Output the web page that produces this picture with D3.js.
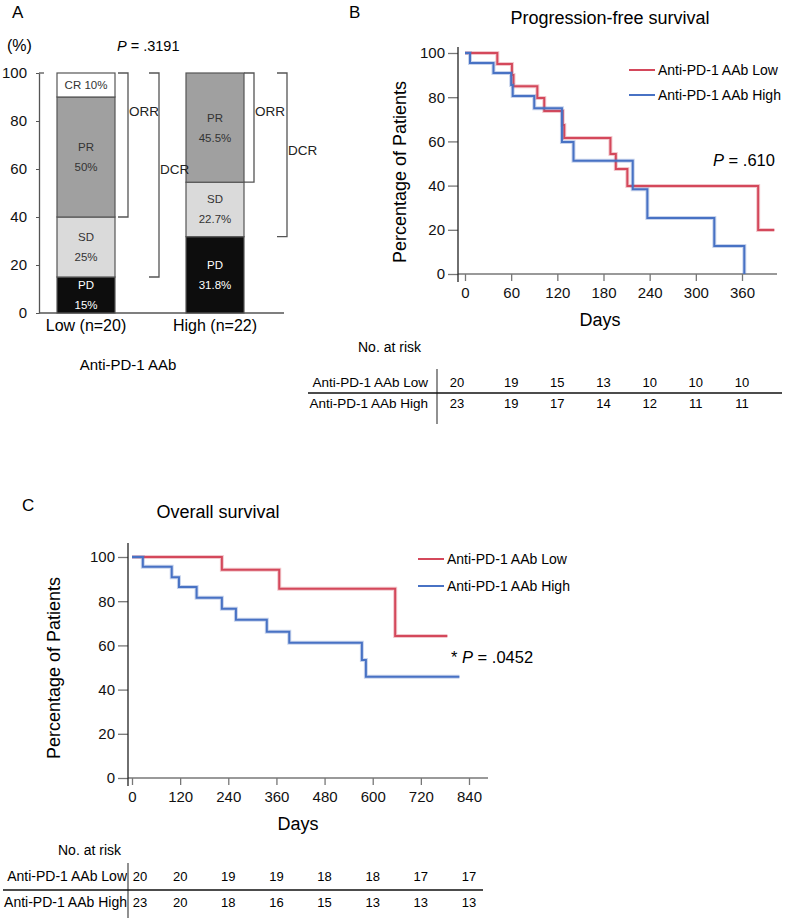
<!DOCTYPE html>
<html>
<head>
<meta charset="utf-8">
<script src="https://cdn.jsdelivr.net/npm/d3@7"></script>
<style>
  body { margin: 0; background: #fff; }
  svg { font-family: "Liberation Sans", Arial, sans-serif; }
  .narrow { font-family: "Liberation Sans Narrow", "Arial Narrow", "Liberation Sans", Arial, sans-serif; }
</style>
</head>
<body>
<div id="chart"></div>
<script>
// ---- data ----
// Panel A: best response by anti-PD-1 AAb group (%)
const groups = ["Low (n=20)", "High (n=22)"];
const responseKeys = ["PD", "SD", "PR", "CR"];
const lowResponse = [15, 25, 50, 10];
const highResponse = [31.8, 22.7, 45.5, 0];
const responseText = [["15%", "25%", "50%", "10%"], ["31.8%", "22.7%", "45.5%", ""]];

// Panel B: progression-free survival (step at day -> survival %)
const pfsLowDays = [0, 42, 61, 63, 94, 103, 127, 129, 189, 196, 211, 381, 402];
const pfsLowSurv = [100, 95, 90, 85, 79.6, 73.8, 67.4, 61.5, 54.3, 47.5, 39.8, 19.9, 19.9];
const pfsHighDays = [0, 6.5, 37, 60, 62, 90, 126, 141, 218, 237, 324, 363];
const pfsHighSurv = [100, 95.5, 91, 85.5, 80.5, 75, 59.7, 51.2, 38.4, 25.3, 12.7, 0];
const pfsTicks = [0, 60, 120, 180, 240, 300, 360];
const pfsRiskLow = [20, 19, 15, 13, 10, 10, 10];
const pfsRiskHigh = [23, 19, 17, 14, 12, 11, 11];

// Panel C: overall survival
const osLowDays = [0, 224, 367, 656, 786];
const osLowSurv = [100, 94.2, 85.6, 64.3, 64.3];
const osHighDays = [0, 27, 99, 117, 161, 224, 259, 336, 392, 573, 583, 816];
const osHighSurv = [100, 95.6, 90.8, 86.4, 81.6, 76.6, 71.6, 66.2, 61.2, 53.4, 45.8, 45.8];
const osTicks = [0, 120, 240, 360, 480, 600, 720, 840];
const osRiskLow = [20, 20, 19, 19, 18, 18, 17, 17];
const osRiskHigh = [23, 20, 18, 16, 15, 13, 13, 13];

const seriesNames = ["Anti-PD-1 AAb Low", "Anti-PD-1 AAb High"];
const red = "#d4485b";
const blue = "#4872c4";

const svg = d3.select("#chart").append("svg")
  .attr("width", 785)
  .attr("height", 918);

// ============ Panel A ============
const gA = svg.append("g");
gA.append("text").attr("x", 12).attr("y", 18).attr("font-size", 17).text("A");
gA.append("text").attr("x", 7).attr("y", 51).attr("font-size", 16).text("(%)");
const pA = gA.append("text").attr("x", 117).attr("y", 51).attr("font-size", 14.5);
pA.append("tspan").attr("font-style", "italic").text("P");
pA.append("tspan").text(" = .3191");

const yA = d3.scaleLinear().domain([0, 100]).range([313, 73]);
const xA = d3.scalePoint().domain(groups).range([86, 215]);
const barW = 58;

const yAxisA = gA.append("g")
  .attr("class", "narrow")
  .attr("transform", "translate(39,0)")
  .call(d3.axisLeft(yA).tickValues([0, 20, 40, 60, 80, 100]).tickSize(3).tickSizeOuter(0).tickPadding(9));
yAxisA.select(".domain").attr("stroke", "#555").attr("stroke-width", 1.3);
yAxisA.selectAll(".tick line").attr("stroke", "#555");
yAxisA.selectAll(".tick text").attr("font-size", 15).attr("fill", "#111").attr("font-family", null);
gA.append("line").attr("x1", 39).attr("x2", 44).attr("y1", yA(100)).attr("y2", yA(100)).attr("stroke", "#555").attr("stroke-width", 1.3);
gA.append("line").attr("x1", 39).attr("x2", 284).attr("y1", yA(0)).attr("y2", yA(0)).attr("stroke", "#555").attr("stroke-width", 1.3);

const rows = groups.map((g, i) => {
  const vals = i === 0 ? lowResponse : highResponse;
  const o = { group: g, idx: i };
  responseKeys.forEach((k, j) => { o[k] = vals[j]; });
  return o;
});
const stacked = d3.stack().keys(responseKeys)(rows);
const fillA = d3.scaleOrdinal().domain(responseKeys).range(["#0d0d0d", "#dadada", "#a0a0a0", "#ffffff"]);
const textFillA = d3.scaleOrdinal().domain(responseKeys).range(["#ffffff", "#333", "#333", "#333"]);

stacked.forEach(layer => {
  layer.forEach(seg => {
    if (seg[1] - seg[0] <= 0) return;
    const g = seg.data.group;
    const cx = xA(g);
    gA.append("rect")
      .attr("x", cx - barW / 2)
      .attr("y", yA(seg[1]))
      .attr("width", barW)
      .attr("height", yA(seg[0]) - yA(seg[1]))
      .attr("fill", fillA(layer.key))
      .attr("stroke", "#555")
      .attr("stroke-width", 1.2);
    const mid = yA((seg[0] + seg[1]) / 2);
    const pct = responseText[seg.data.idx][responseKeys.indexOf(layer.key)];
    const t = gA.append("text")
      .attr("text-anchor", "middle")
      .attr("font-size", 11.5)
      .attr("fill", textFillA(layer.key));
    if (layer.key === "CR") {
      t.attr("x", cx).attr("y", mid + 4).text("CR " + pct);
    } else {
      t.append("tspan").attr("x", cx).attr("y", mid - 6).text(layer.key);
      t.append("tspan").attr("x", cx).attr("y", mid + 14).text(pct);
    }
  });
});

// ORR / DCR brackets
const bracketSpec = [
  { group: groups[0], name: "ORR", bottom: lowResponse[0] + lowResponse[1], dx: 13, labelAt: 84 },
  { group: groups[0], name: "DCR", bottom: lowResponse[0], dx: 44, labelAt: 60 },
  { group: groups[1], name: "ORR", bottom: highResponse[0] + highResponse[1], dx: 10, labelAt: 84 },
  { group: groups[1], name: "DCR", bottom: highResponse[0], dx: 43, labelAt: 68 }
];
bracketSpec.forEach(b => {
  const bx = xA(b.group) + barW / 2 + b.dx;
  gA.append("path")
    .attr("d", `M${bx - 10},${yA(100)}H${bx}V${yA(b.bottom)}H${bx - 10}`)
    .attr("fill", "none")
    .attr("stroke", "#555")
    .attr("stroke-width", 1.3);
  gA.append("text")
    .attr("class", "narrow")
    .attr("x", bx + 1)
    .attr("y", yA(b.labelAt) + 5)
    .attr("font-size", 13.5)
    .attr("fill", "#222")
    .text(b.name);
});

groups.forEach(g => {
  gA.append("text").attr("x", xA(g)).attr("y", 331).attr("text-anchor", "middle")
    .attr("font-size", 16).text(g);
});
gA.append("text").attr("x", 128).attr("y", 370).attr("text-anchor", "middle")
  .attr("font-size", 15).text("Anti-PD-1 AAb");

// ============ KM helper ============
function drawKM(cfg) {
  const g = svg.append("g");
  const x = d3.scaleLinear().domain(cfg.domainX).range(cfg.rangeX);
  const y = d3.scaleLinear().domain([0, 100]).range(cfg.rangeY);

  g.append("text").attr("x", cfg.letter[0]).attr("y", cfg.letter[1])
    .attr("font-size", 17).text(cfg.letter[2]);
  g.append("text").attr("x", cfg.title[0]).attr("y", cfg.title[1])
    .attr("text-anchor", "middle").attr("font-size", 18).text(cfg.title[2]);

  // axes
  const yAx = g.append("g")
    .attr("class", "narrow")
    .attr("transform", `translate(${cfg.axisX},0)`)
    .call(d3.axisLeft(y).tickValues([0, 20, 40, 60, 80, 100]).tickSize(10).tickSizeOuter(0).tickPadding(3));
  yAx.select(".domain").remove();
  yAx.selectAll(".tick line").attr("stroke", "#777").attr("stroke-width", 1.3);
  yAx.selectAll(".tick text").attr("font-size", 15).attr("fill", "#111").attr("font-family", null);

  const xAx = g.append("g")
    .attr("class", "narrow")
    .attr("transform", `translate(0,${cfg.rangeY[0]})`)
    .call(d3.axisBottom(x).tickValues(cfg.ticks).tickSize(7).tickSizeOuter(0).tickPadding(6));
  xAx.select(".domain").remove();
  xAx.selectAll(".tick line").attr("stroke", "#777").attr("stroke-width", 1.3);
  xAx.selectAll(".tick text").attr("font-size", 15).attr("fill", "#111").attr("font-family", null);

  g.append("line").attr("x1", cfg.axisX).attr("x2", cfg.axisEndX)
    .attr("y1", cfg.rangeY[0]).attr("y2", cfg.rangeY[0])
    .attr("stroke", "#777").attr("stroke-width", 1.3);
  g.append("line").attr("x1", cfg.axisX).attr("x2", cfg.axisX)
    .attr("y1", cfg.axisTopY).attr("y2", cfg.rangeY[0] + 8)
    .attr("stroke", "#222").attr("stroke-width", 1.3);

  g.append("text").attr("x", cfg.daysX).attr("y", cfg.rangeY[0] + 52)
    .attr("text-anchor", "middle").attr("font-size", 18).text("Days");
  g.append("text")
    .attr("transform", `translate(${cfg.yLabelX},${cfg.yLabelY}) rotate(-90)`)
    .attr("text-anchor", "middle").attr("font-size", 18).text("Percentage of Patients");

  // curves
  const line = d3.line().x(d => x(d[0])).y(d => y(d[1])).curve(d3.curveStepAfter);
  cfg.series.forEach(s => {
    const pts = s.days.map((d, i) => [d, s.surv[i]]);
    g.append("path").datum(pts).attr("d", line)
      .attr("fill", "none").attr("stroke", s.color).attr("stroke-opacity", 0.3)
      .attr("stroke-width", 4);
    g.append("path").datum(pts).attr("d", line)
      .attr("fill", "none").attr("stroke", s.color).attr("stroke-width", 2);
  });

  // legend
  cfg.series.forEach((s, i) => {
    const ly = cfg.legend[1] + i * cfg.legend[2];
    g.append("line").attr("x1", cfg.legend[0]).attr("x2", cfg.legend[0] + 26)
      .attr("y1", ly).attr("y2", ly).attr("stroke", s.color).attr("stroke-width", 2);
    g.append("text").attr("x", cfg.legend[0] + 29).attr("y", ly + 5)
      .attr("font-size", 14).text(s.name);
  });

  // p value
  const pt = g.append("text").attr("x", cfg.pval[0]).attr("y", cfg.pval[1]).attr("font-size", 16.5);
  if (cfg.pval[3]) pt.append("tspan").text(cfg.pval[3] + "  ");
  pt.append("tspan").attr("font-style", "italic").text("P");
  pt.append("tspan").text(" = " + cfg.pval[2]);

  // risk table
  const rt = cfg.risk;
  g.append("text").attr("x", rt.titleX).attr("y", rt.titleY).attr("font-size", 14).text("No. at risk");
  rt.rows.forEach((r, i) => {
    const ry = rt.rowY[i];
    g.append("text").attr("x", rt.labelX).attr("y", ry + 5).attr("text-anchor", "end")
      .attr("font-size", rt.labelSize).text(r.name);
    r.values.forEach((v, j) => {
      g.append("text")
        .attr("x", x(cfg.ticks[j]) + (j === 0 ? rt.firstShift : 0))
        .attr("y", ry + 5)
        .attr("text-anchor", "middle")
        .attr("font-size", 13)
        .text(v);
    });
  });
  g.append("line").attr("x1", rt.lineX).attr("x2", rt.lineX)
    .attr("y1", rt.vTop).attr("y2", rt.vBottom).attr("stroke", "#555").attr("stroke-width", 1.3);
  g.append("line").attr("x1", rt.hLeft).attr("x2", rt.hRight)
    .attr("y1", rt.hY).attr("y2", rt.hY).attr("stroke", "#111").attr("stroke-width", 1.3);
}

// ============ Panel B ============
drawKM({
  letter: [349, 18, "B"],
  title: [610, 24, "Progression-free survival"],
  domainX: [0, 360], rangeX: [465, 742], rangeY: [274, 53],
  ticks: pfsTicks,
  axisX: 458, axisEndX: 777, axisTopY: 47,
  daysX: 600, yLabelX: 406, yLabelY: 172,
  series: [
    { name: seriesNames[0], days: pfsLowDays, surv: pfsLowSurv, color: red },
    { name: seriesNames[1], days: pfsHighDays, surv: pfsHighSurv, color: blue }
  ],
  legend: [629, 70, 25],
  pval: [713, 166, ".610"],
  risk: {
    titleX: 358, titleY: 352, labelX: 428, labelSize: 13.5, rowY: [382, 403],
    firstShift: -8,
    rows: [
      { name: seriesNames[0], values: pfsRiskLow },
      { name: seriesNames[1], values: pfsRiskHigh }
    ],
    lineX: 437, vTop: 369, vBottom: 424, hLeft: 308, hRight: 782, hY: 393
  }
});

// ============ Panel C ============
drawKM({
  letter: [22, 511, "C"],
  title: [218, 518, "Overall survival"],
  domainX: [0, 840], rangeX: [132, 469], rangeY: [778, 557],
  ticks: osTicks,
  axisX: 128, axisEndX: 488, axisTopY: 543,
  daysX: 298, yLabelX: 60, yLabelY: 668,
  series: [
    { name: seriesNames[0], days: osLowDays, surv: osLowSurv, color: red },
    { name: seriesNames[1], days: osHighDays, surv: osHighSurv, color: blue }
  ],
  legend: [418, 559, 27],
  pval: [451, 663, ".0452", "*"],
  risk: {
    titleX: 58, titleY: 855, labelX: 127, labelSize: 14, rowY: [876, 902],
    firstShift: 8,
    rows: [
      { name: seriesNames[0], values: osRiskLow },
      { name: seriesNames[1], values: osRiskHigh }
    ],
    lineX: 128, vTop: 863, vBottom: 918, hLeft: 3, hRight: 483, hY: 890
  }
});
</script>
</body>
</html>
